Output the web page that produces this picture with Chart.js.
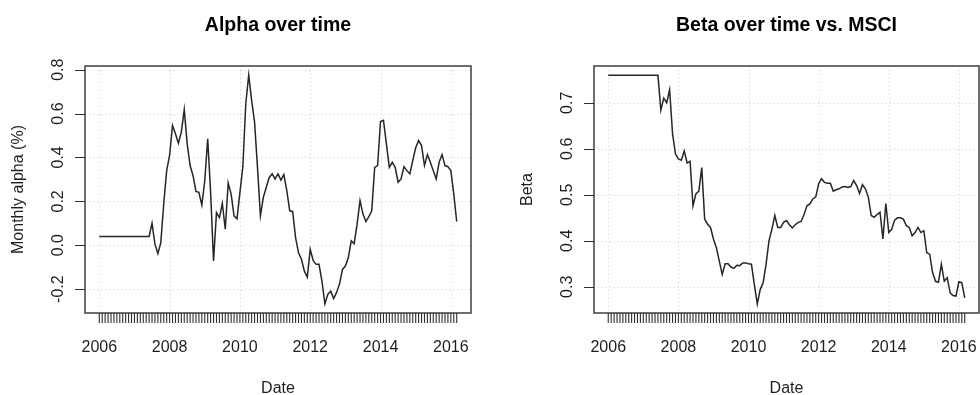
<!DOCTYPE html>
<html>
<head>
<meta charset="utf-8">
<script src="https://cdn.jsdelivr.net/npm/chart.js@4"></script>
<style>
  html, body { margin: 0; padding: 0; background: #fff; overflow: hidden; }
  #wrap { position: relative; width: 980px; height: 395px; }
  .panel { position: absolute; top: 0; width: 490px; height: 395px; }
</style>
</head>
<body>
<div id="wrap">
  <div class="panel" style="left:0"><canvas id="alphaChart" width="490" height="395"></canvas></div>
  <div class="panel" style="left:490px"><canvas id="betaChart" width="490" height="395"></canvas></div>
</div>
<script>
// Rolling-window estimates, monthly from Jan 2006 to Mar 2016
const START_YEAR = 2006;

// Monthly alpha, in percent
const alpha = [
  0.04, 0.04, 0.04, 0.04, 0.04, 0.04, 0.04, 0.04, 0.04, 0.04, 0.04, 0.04,
  0.04, 0.04, 0.04, 0.04, 0.04, 0.04, 0.10, 0.005, -0.038, 0.012, 0.19, 0.34,
  0.41, 0.546, 0.508, 0.465, 0.515, 0.618, 0.462, 0.363, 0.317, 0.245, 0.241, 0.183,
  0.294, 0.485, 0.241, -0.072, 0.149, 0.126, 0.19, 0.073, 0.284, 0.233, 0.134, 0.12,
  0.24, 0.358, 0.645, 0.775, 0.66, 0.561, 0.355, 0.134, 0.218, 0.264, 0.309, 0.325,
  0.302, 0.325, 0.297, 0.322, 0.249, 0.157, 0.154, 0.035, -0.034, -0.064, -0.118, -0.145,
  -0.018, -0.069, -0.087, -0.087, -0.163, -0.267, -0.224, -0.209, -0.243, -0.215, -0.176, -0.11,
  -0.095, -0.057, 0.02, 0.007, 0.096, 0.203, 0.142, 0.108, 0.13, 0.157, 0.355, 0.363,
  0.564, 0.569, 0.462, 0.355, 0.378, 0.355, 0.287, 0.302, 0.358, 0.34, 0.325, 0.386,
  0.444, 0.477, 0.454, 0.363, 0.413, 0.378, 0.34, 0.302, 0.378, 0.413, 0.363, 0.358,
  0.34, 0.233, 0.108
];

// Beta against the MSCI index
const beta = [
  0.76, 0.76, 0.76, 0.76, 0.76, 0.76, 0.76, 0.76, 0.76, 0.76, 0.76, 0.76,
  0.76, 0.76, 0.76, 0.76, 0.76, 0.76, 0.684, 0.71, 0.70, 0.728, 0.633, 0.589,
  0.578, 0.575, 0.595, 0.569, 0.573, 0.476, 0.502, 0.508, 0.559, 0.447, 0.436, 0.429,
  0.404, 0.385, 0.356, 0.327, 0.35, 0.35, 0.343, 0.34, 0.347, 0.346, 0.352, 0.352,
  0.35, 0.349, 0.305, 0.263, 0.294, 0.309, 0.349, 0.40, 0.425, 0.455, 0.429, 0.429,
  0.44, 0.444, 0.435, 0.428, 0.435, 0.44, 0.442, 0.457, 0.476, 0.48, 0.491, 0.495,
  0.524, 0.535, 0.527, 0.525, 0.525, 0.508, 0.511, 0.513, 0.517, 0.518, 0.516, 0.518,
  0.531, 0.52, 0.503, 0.522, 0.513, 0.495, 0.455, 0.451, 0.457, 0.462, 0.404, 0.481,
  0.418, 0.425, 0.445, 0.45, 0.45, 0.447, 0.433, 0.429, 0.411, 0.418, 0.429, 0.418,
  0.422, 0.374, 0.371, 0.331, 0.312, 0.31, 0.349, 0.312, 0.32, 0.287, 0.281, 0.28,
  0.311, 0.309, 0.276
];

// Observation dates as decimal years (one per month)
const dates = alpha.map((_, i) => START_YEAR + i / 12);

const yearTicks = [2006, 2008, 2010, 2012, 2014, 2016];
const alphaTicks = [-0.2, 0.0, 0.2, 0.4, 0.6, 0.8];
const betaTicks = [0.3, 0.4, 0.5, 0.6, 0.7];

const FONT = '"Liberation Sans", Arial, Helvetica, sans-serif';

// Axis range padded by 4% on each side, like base R graphics
function paddedRange(values) {
  const lo = Math.min(...values), hi = Math.max(...values);
  const pad = (hi - lo) * 0.04;
  return { min: lo - pad, max: hi + pad };
}

// Draws the boxed frame, dotted grid, axis ticks and labels
function rFrame(cfg) {
  return {
    id: 'rFrame',
    beforeDatasetsDraw(chart) {
      const { ctx, chartArea: a, scales: { x, y } } = chart;
      ctx.save();
      ctx.strokeStyle = '#cfcfcf';
      ctx.lineWidth = 1;
      ctx.setLineDash([1, 3]);
      ctx.beginPath();
      yearTicks.forEach(v => {
        const px = Math.round(x.getPixelForValue(v)) + 0.5;
        ctx.moveTo(px, a.top); ctx.lineTo(px, a.bottom);
      });
      cfg.yTicks.forEach(v => {
        const py = Math.round(y.getPixelForValue(v)) + 0.5;
        ctx.moveTo(a.left, py); ctx.lineTo(a.right, py);
      });
      ctx.stroke();
      ctx.restore();
    },
    afterDraw(chart) {
      const { ctx, chartArea: a, scales: { x, y } } = chart;
      ctx.save();
      // plot frame
      ctx.strokeStyle = '#4a4a4a';
      ctx.lineWidth = 1.6;
      ctx.strokeRect(a.left, a.top, a.right - a.left, a.bottom - a.top);

      // one tick per monthly observation
      ctx.strokeStyle = '#2e2e2e';
      ctx.lineWidth = 1.1;
      ctx.beginPath();
      dates.forEach(d => {
        const px = x.getPixelForValue(d);
        ctx.moveTo(px, a.bottom); ctx.lineTo(px, a.bottom + 10);
      });
      ctx.stroke();
      // y axis ticks
      ctx.lineWidth = 1;
      ctx.beginPath();
      cfg.yTicks.forEach(v => {
        const py = Math.round(y.getPixelForValue(v)) + 0.5;
        ctx.moveTo(a.left, py); ctx.lineTo(a.left - 10, py);
      });
      ctx.stroke();

      ctx.fillStyle = '#1e1e1e';
      ctx.font = '16px ' + FONT;
      ctx.textAlign = 'center';
      ctx.textBaseline = 'alphabetic';
      yearTicks.forEach(v => ctx.fillText(String(v), x.getPixelForValue(v), 352));
      ctx.fillText('Date', (a.left + a.right) / 2, 393);

      cfg.yTicks.forEach(v => {
        ctx.save();
        ctx.translate(a.left - 22, y.getPixelForValue(v));
        ctx.rotate(-Math.PI / 2);
        ctx.fillText(v.toFixed(1), 0, 0);
        ctx.restore();
      });

      ctx.save();
      ctx.translate(a.left - 62, (a.top + a.bottom) / 2);
      ctx.rotate(-Math.PI / 2);
      ctx.fillText(cfg.yTitle, 0, 0);
      ctx.restore();

      ctx.fillStyle = '#000';
      ctx.font = 'bold 19.5px ' + FONT;
      ctx.fillText(cfg.title, (a.left + a.right) / 2, 31);
      ctx.restore();
    }
  };
}

function makeChart(id, values, cfg) {
  const xr = paddedRange(dates);
  const yr = paddedRange(values);
  return new Chart(document.getElementById(id), {
    type: 'line',
    data: {
      datasets: [{
        data: values.map((v, i) => ({ x: dates[i], y: v })),
        borderColor: '#262626',
        borderWidth: 1.5,
        pointRadius: 0,
        tension: 0,
        fill: false
      }]
    },
    options: {
      responsive: false,
      animation: false,
      devicePixelRatio: 1,
      layout: { padding: cfg.padding },
      plugins: { legend: { display: false }, tooltip: { enabled: false } },
      scales: {
        x: { type: 'linear', display: false, min: xr.min, max: xr.max },
        y: { type: 'linear', display: false, min: yr.min, max: yr.max }
      }
    },
    plugins: [rFrame(cfg)]
  });
}

makeChart('alphaChart', alpha, {
  title: 'Alpha over time',
  yTitle: 'Monthly alpha (%)',
  yTicks: alphaTicks,
  padding: { left: 85, right: 19, top: 66, bottom: 82 }
});

makeChart('betaChart', beta, {
  title: 'Beta over time vs. MSCI',
  yTitle: 'Beta',
  yTicks: betaTicks,
  padding: { left: 104, right: 1, top: 66, bottom: 82 }
});
</script>
</body>
</html>
